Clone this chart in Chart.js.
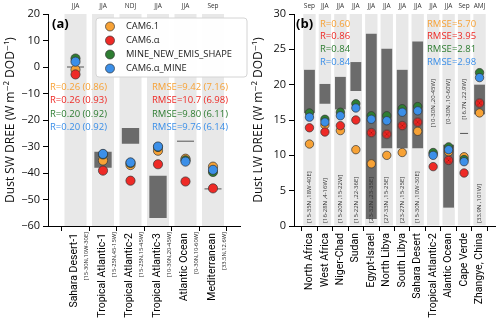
<!DOCTYPE html>
<html lang="en">
<head>
<meta charset="UTF-8">
<title>Dust DREE</title>
<script src="https://cdn.jsdelivr.net/npm/chart.js"></script>
<style>
  body { margin: 0; background: #fff; }
  .wrap { display: flex; width: 500px; height: 321px; }
  canvas { display: block; }
</style>
</head>
<body>
<div class="wrap">
  <canvas id="swChart" width="250" height="321"></canvas>
  <canvas id="lwChart" width="250" height="321"></canvas>
</div>
<script>
// ---- panel (a): shortwave ----
const regionsA = ['Sahara Desert-1', 'Tropical Atlantic-1', 'Tropical Atlantic-2', 'Tropical Atlantic-3', 'Atlantic Ocean', 'Mediterranean'];
const boxesA = ['[15-30N,10W-30E]', '[15-25N,45-15W]', '[15-25N,15-45W]', '[10-30N,20-45W]', '[0-30N,10-60W]', '[33.5N,12.6W]'];
const seasonsA = ['JJA', 'JJA', 'NDJ', 'JJA', 'JJA', 'Sep'];
const obsLowA = [0, -38, -29, -57, -28, -46];
const obsHighA = [0, -32, -23, -41, -28, -46];
const cam61A = [-1, -35.3, -37, -31.6, -34.6, -37.6];
const camAlphaA = [-2.8, -39.1, -42.9, -36.7, -43.2, -45.8];
const mineShapeA = [3.2, -33, -36.2, -30.2, -35.2, -39.6];
const camAlphaMineA = [2.0, -32.8, -36, -30, -35.7, -38.8];
const statsRA = ['R=0.26 (0.86)', 'R=0.26 (0.93)', 'R=0.20 (0.92)', 'R=0.20 (0.92)'];
const statsRmseA = ['RMSE=9.42 (7.16)', 'RMSE=10.7 (6.98)', 'RMSE=9.80 (6.11)', 'RMSE=9.76 (6.14)'];

// ---- panel (b): longwave ----
const regionsB = ['North Africa', 'West Africa', 'Niger-Chad', 'Sudan', 'Egypt-Israel', 'North Libya', 'South Libya', 'Sahara Desert', 'Tropical Atlantic-2', 'Alantic Ocean', 'Cape Verde', 'Zhangye, China'];
const boxesB = ['[15-35N ,18W-40E]', '[16-28N ,4-16W]', '[15-20N ,15-22W]', '[15-22N ,22-36E]', '[23-32N ,23-35E]', '[27-33N ,15-25E]', '[23-27N ,15-25E]', '[15-30N ,10W-30E]', '[10-30N ,20-45W]', '[0-30N ,10-60W]', '[16.7N ,22.9W]', '[33.9N ,101W]'];
const seasonsB = ['Sep', 'JJA', 'JJA', 'JJA', 'JJA', 'JJA', 'JJA', 'JJA', 'JJA', 'JJA', 'Sep', 'AMJ'];
const obsLowB = [16, 17.3, 16.5, 19.1, 1, 11, 11, 11, null, 2.6, 13.1, 15.8];
const obsHighB = [22.1, 20.1, 21.1, 23.2, 27.2, 25.1, 22.1, 26.1, null, 11.5, 13.1, 20];
const cam61B = [11.6, 14.3, 13.5, 10.8, 8.8, 10.0, 10.4, 13.4, 10.2, 10.5, 9.8, 16.0];
const camAlphaB = [13.9, 13.3, 14.2, 15.0, 13.2, 13.0, 14.2, 14.7, 8.4, 9.3, 7.5, 17.4];
const mineShapeB = [16.0, 15.1, 16.1, 17.3, 15.6, 15.6, 16.6, 16.9, 10.4, 11.2, 9.4, 21.7];
const camAlphaMineB = [15.4, 14.7, 15.6, 16.7, 15.1, 14.9, 16.1, 16.3, 10.0, 10.8, 9.1, 21.0];
const dottedB = [0, 0, 0, 0, 1, 1, 1, 1, 0, 1, 0, 1];
const statsRB = ['R=0.60', 'R=0.86', 'R=0.84', 'R=0.84'];
const statsRmseB = ['RMSE=5.70', 'RMSE=3.95', 'RMSE=2.81', 'RMSE=2.98'];
const topLabelB = [0, 0, 0, 0, 0, 0, 0, 0, 1, 1, 1, 0];

const seriesNames = ['CAM6.1', 'CAM6.\u03b1', 'MINE_NEW_EMIS_SHAPE', 'CAM6.\u03b1_MINE'];
const seriesColors = ['#F7A236', '#EE2A26', '#2E7D32', '#3B8FE8'];
const FONT = '"Open Sans", "DejaVu Sans", sans-serif';
const NARROW = 'Roboto, "Open Sans", sans-serif';

function minus(v) { return v < 0 ? '\u2212' + Math.abs(v) : String(v); }

// red marker with small dark dots
function dottedDot(r, fill) {
  const c = document.createElement('canvas');
  const s = Math.ceil(r * 2 + 2);
  c.width = s; c.height = s;
  const g = c.getContext('2d');
  g.beginPath(); g.arc(s / 2, s / 2, r, 0, Math.PI * 2);
  g.fillStyle = fill; g.fill();
  g.lineWidth = 0.7; g.strokeStyle = '#333'; g.stroke();
  g.fillStyle = '#700';
  [[-2, -2], [1, -2], [-0.5, -0.5], [-2, 1], [1, 1]].forEach(p => g.fillRect(s / 2 + p[0], s / 2 + p[1], 1, 1));
  return c;
}

const textPlugin = {
  id: 'texts',
  afterDraw(chart, args, o) {
    const { ctx, chartArea: a, scales: { x, y } } = chart;
    ctx.save();
    ctx.textBaseline = 'middle';
    // season labels above the plot
    ctx.font = '6.5px ' + FONT; ctx.fillStyle = '#333'; ctx.textAlign = 'center';
    o.seasons.forEach((s, i) => ctx.fillText(s, x.getPixelForValue(i), a.top - 8));
    // rotated category labels
    o.labels.forEach((s, i) => {
      const px = x.getPixelForValue(i);
      ctx.save();
      ctx.translate(px - o.mainShift, a.bottom + 7);
      ctx.rotate(-Math.PI / 2);
      ctx.textAlign = 'right'; ctx.fillStyle = '#000';
      ctx.font = '10.5px ' + NARROW;
      ctx.fillText(s, 0, 0);
      ctx.restore();
      if (o.subBelow) {
        ctx.save();
        ctx.translate(px + 11, a.bottom + 6);
        ctx.rotate(-Math.PI / 2);
        ctx.textAlign = 'right'; ctx.fillStyle = '#222';
        ctx.font = '5.8px ' + FONT;
        ctx.fillText(o.boxes[i], 0, 0);
        ctx.restore();
      } else {
        ctx.save();
        const top = o.topLabel[i];
        ctx.translate(px, top ? y.getPixelForValue(20.8) : a.bottom - 3);
        ctx.rotate(-Math.PI / 2);
        ctx.textAlign = top ? 'right' : 'left'; ctx.fillStyle = '#333';
        ctx.font = '6px ' + FONT;
        ctx.fillText(o.boxes[i], 0, 0);
        ctx.restore();
      }
    });
    // panel letter
    ctx.textAlign = 'left'; ctx.fillStyle = '#000';
    ctx.font = 'bold 13px ' + FONT;
    ctx.fillText(o.letter[0], a.left + o.letter[1], a.top + 10);
    // stats
    ctx.font = '9.5px ' + FONT;
    o.statsR.forEach((s, i) => {
      ctx.fillStyle = seriesColors[i];
      ctx.fillText(s, a.left + o.statPos[0], a.top + o.statPos[2] + i * o.statPos[3]);
      ctx.fillText(o.statsRmse[i], a.left + o.statPos[1], a.top + o.statPos[2] + i * o.statPos[3]);
    });
    // legend
    if (o.legend) {
      const lx = a.left + 48, ly = a.top + 4;
      ctx.beginPath();
      ctx.roundRect(lx, ly, 151, 59, 3);
      ctx.fillStyle = 'rgba(255,255,255,0.92)'; ctx.fill();
      ctx.strokeStyle = '#d4d4d4'; ctx.lineWidth = 1; ctx.stroke();
      ctx.font = '9.3px ' + FONT;
      seriesNames.forEach((n, i) => {
        const yy = ly + 8.5 + i * 14;
        ctx.beginPath(); ctx.arc(lx + 14, yy, 4.5, 0, Math.PI * 2);
        ctx.fillStyle = seriesColors[i]; ctx.fill();
        ctx.strokeStyle = '#333'; ctx.lineWidth = 0.7; ctx.stroke();
        ctx.fillStyle = '#222';
        ctx.fillText(n, lx + 30, yy);
      });
    }
    ctx.restore();
  }
};

function buildChart(id, o) {
  const n = o.labels.length;
  const idx = o.labels.map((_, i) => i);
  const boxes = [], lines = [];
  o.lo.forEach((lo, i) => {
    const hi = o.hi[i];
    if (lo == null) return;
    if (lo === hi) lines.push({ x: i, y: lo });
    else boxes.push({ x: i, y: [lo, hi] });
  });
  const datasets = [
    { type: 'bar', data: idx.map(i => ({ x: i, y: [o.yMin, o.yMax] })), backgroundColor: '#e8e8e8',
      barPercentage: 0.8, categoryPercentage: 1, grouped: false, order: 10 },
    { type: 'bar', data: boxes, backgroundColor: '#6b6b6b',
      barPercentage: o.boxPct, categoryPercentage: 1, grouped: false, order: 9 },
    { type: 'scatter', data: lines, pointStyle: 'line', pointRadius: o.lineR,
      pointBorderColor: '#555', pointBorderWidth: 1, order: 8 }
  ];
  o.series.forEach((arr, k) => {
    const dot = dottedDot(o.r, seriesColors[k]);
    datasets.push({
      type: 'scatter', label: seriesNames[k],
      data: arr.map((v, i) => ({ x: i, y: v })),
      pointRadius: o.r, pointBackgroundColor: seriesColors[k],
      pointBorderColor: '#333', pointBorderWidth: 0.7,
      pointStyle: (k === 1 && o.dotted) ? (c => o.dotted[c.dataIndex] ? dot : 'circle') : 'circle',
      order: 4 - k
    });
  });
  const axisGrid = { display: true, drawOnChartArea: false, drawTicks: true, tickLength: 5, color: '#000' };
  return new Chart(document.getElementById(id), {
    type: 'bar',
    data: { datasets },
    plugins: [textPlugin],
    options: {
      responsive: false, animation: false, events: [],
      layout: { padding: { top: 14, right: o.padRight, left: 0, bottom: 0 } },
      plugins: { legend: { display: false }, tooltip: { enabled: false }, texts: o.text },
      scales: {
        x: {
          type: 'linear', min: -1, max: n, offset: false,
          grid: axisGrid, border: { display: true, color: '#000', width: 1 },
          ticks: { display: false, stepSize: 1 },
          afterBuildTicks: s => { s.ticks = s.ticks.filter(t => t.value >= 0 && t.value < n); },
          afterFit: s => { s.height = 95; }
        },
        y: {
          min: o.yMin, max: o.yMax,
          grid: axisGrid, border: { display: true, color: '#000', width: 1 },
          ticks: { stepSize: o.step, padding: 3, color: '#111', font: { size: 11, family: FONT }, callback: v => minus(v) },
          title: { display: true, text: o.title, color: '#111', font: { size: 12, family: FONT }, padding: { top: o.titlePad, bottom: 0 } },
          afterFit: s => { s.width = o.yWidth; }
        }
      }
    }
  });
}

buildChart('swChart', {
  labels: regionsA, lo: obsLowA, hi: obsHighA,
  series: [cam61A, camAlphaA, mineShapeA, camAlphaMineA],
  yMin: -60, yMax: 20, step: 10, yWidth: 48, padRight: 2, titlePad: 3,
  boxPct: 0.63, lineR: 8.5, r: 4.6,
  title: 'Dust SW DREE (W m\u207b\u00b2 DOD\u207b\u00b9)',
  text: { labels: regionsA, boxes: boxesA, seasons: seasonsA, subBelow: true, mainShift: 1,
    letter: ['(a)', 4], statsR: statsRA, statsRmse: statsRmseA, statPos: [2, 104, 73, 13.4], legend: true }
});

buildChart('lwChart', {
  labels: regionsB, lo: obsLowB, hi: obsHighB,
  series: [cam61B, camAlphaB, mineShapeB, camAlphaMineB], dotted: dottedB,
  yMin: 0, yMax: 30, step: 5, yWidth: 44, padRight: 4, titlePad: 1,
  boxPct: 0.7, lineR: 4, r: 4.2,
  title: 'Dust LW DREE (W m\u207b\u00b2 DOD\u207b\u00b9)',
  text: { labels: regionsB, boxes: boxesB, seasons: seasonsB, subBelow: false, mainShift: 0, topLabel: topLabelB,
    letter: ['(b)', 2], statsR: statsRB, statsRmse: statsRmseB, statPos: [26, 133, 10, 12.7], legend: false }
});
</script>
</body>
</html>
